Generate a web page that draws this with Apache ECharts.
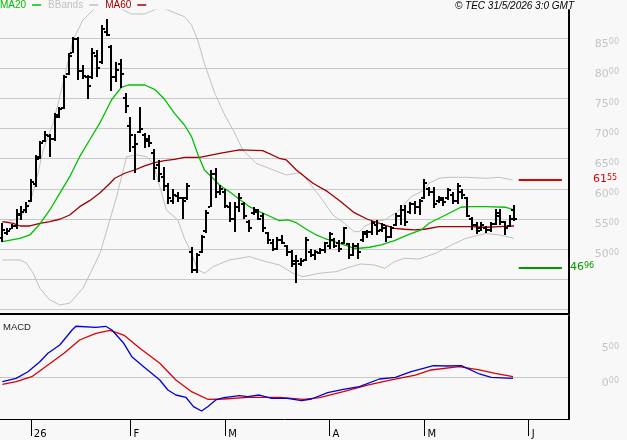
<!DOCTYPE html>
<html><head><meta charset="utf-8">
<script src="https://cdn.jsdelivr.net/npm/echarts@6/dist/echarts.min.js"></script>
<style>html,body{margin:0;padding:0;background:#f8f8f8}#c{width:627px;height:440px}</style>
</head><body><div id="c"></div>
<script>
// ---- data ----
const N = 120; // trading-day slots on the x axis (incl. empty future slots)
const monthStarts = [6, 27, 47, 69, 89, 111];
const monthNames = ['26', 'F', 'M', 'A', 'M', 'J'];

const open = [5180,5260,5340,5380,5560,5640,5800,6080,6520,6800,
6880,6820,7220,7340,7900,8260,8480,7950,7860,7850,
8200,8100,8600,8350,7850,8080,7500,7050,6700,6950,
6900,6820,6600,6400,6200,6050,5800,5880,5850,5840,
4950,4650,4950,5300,5700,6250,5950,5950,5700,5500,
5700,5750,5450,5600,5620,5550,5270,5100,5000,5150,
5050,4950,4800,4750,4820,4950,4900,4940,4980,5050,
5150,5100,5100,5080,4900,5050,5150,5250,5280,5400,
5320,5350,5200,5400,5550,5650,5620,5750,5700,5850,
6000,5950,5800,5820,5850,5900,5800,5950,5850,5500,
5400,5350,5350,5320,5420,5550,5450,5380,5650];
const high = [5437,5344,5415,5660,5714,5781,6163,6557,6799,6960,
6910,7254,7364,7890,8251,8517,8517,8057,7890,8334,
8306,8721,8816,8389,8111,8151,7596,7198,6910,7355,
6932,6894,6656,6479,6357,6102,5992,5952,5869,6102,
5029,4929,5233,5648,6312,6341,6063,5992,5786,5786,
5935,5786,5482,5693,5660,5603,5288,5161,5205,5233,
5067,4984,4901,4846,5194,4995,4984,5012,5122,5288,
5178,5150,5371,5106,5095,5106,5305,5316,5470,5482,
5437,5382,5382,5593,5731,5731,5786,5803,5826,6158,
6036,6025,5881,5859,6009,5952,6102,5992,5859,5527,
5454,5454,5382,5454,5660,5660,5470,5565,5731];
const low = [5122,5233,5327,5327,5482,5603,5781,6025,6507,6783,
6523,6783,7188,7320,7890,8251,7807,7824,7487,7824,
7862,8073,8527,7630,7779,7670,7264,6616,6258,6922,
6689,6700,6135,6118,5952,5759,5743,5786,5510,5814,
4597,4597,4929,5271,5693,5842,5897,5676,5454,5288,
5620,5499,5288,5565,5470,5288,5095,4956,4984,5084,
4884,4696,4431,4707,4790,4862,4818,4917,4939,5012,
5012,4956,5095,4846,4873,4846,5122,5178,5233,5233,
5288,5122,5178,5371,5399,5382,5593,5593,5565,5826,
5881,5676,5759,5714,5814,5748,5759,5826,5527,5305,
5249,5305,5272,5288,5399,5399,5233,5371,5470];
const close = [5320,5300,5390,5580,5620,5720,6120,6500,6760,6900,
6820,7200,7320,7850,8200,8480,7950,7880,7700,8250,
8000,8650,8560,7860,7970,7900,7380,6900,6750,7000,
6800,6760,6350,6250,6050,5850,5900,5850,5800,6050,
4650,4900,5200,5600,6250,5950,6000,5720,5500,5700,
5850,5550,5350,5650,5500,5350,5150,5000,5150,5100,
4950,4750,4800,4800,5150,4900,4950,4990,5100,5250,
5050,5000,5350,4900,5050,4950,5280,5290,5430,5300,
5400,5200,5350,5550,5650,5450,5750,5700,5800,6100,
5950,5750,5850,5780,5980,5800,6050,5900,5550,5400,
5300,5400,5320,5420,5600,5450,5350,5500,5500];

// indicator lines: [slot index, value]
const ma20 = [[0,5122],[3.7,5178],[5.8,5233],[7.9,5416],[10,5648],[12.1,5925],[14.2,6201],[16.3,6533],[18.4,6811],[20.6,7098],[21.6,7254],[23,7475],[25.1,7686],[26.5,7724],[30,7724],[32.1,7653],[34.2,7487],[36.3,7254],[38.4,7060],[39.9,6866],[41.2,6578],[42.6,6312],[44.1,6201],[45.8,6063],[47.9,5952],[50,5826],[52.1,5703],[54.2,5620],[56.3,5548],[58.4,5470],[60.2,5482],[62,5437],[64.1,5328],[66.2,5233],[67.9,5178],[70,5122],[72.1,5067],[74.2,5012],[75.3,5012],[77.4,5029],[79.9,5067],[82.7,5138],[85.5,5233],[88.3,5316],[90,5427],[92.1,5510],[94.2,5593],[96.7,5693],[98.4,5703],[102,5703],[106.2,5693],[107.9,5648]];
const ma60 = [[0,5454],[2.3,5427],[3.7,5382],[5.8,5382],[7.9,5427],[10,5454],[12.1,5494],[14.2,5565],[16.3,5703],[18.4,5803],[20.6,5935],[22.7,6092],[23.7,6175],[25.8,6258],[27.9,6312],[30,6379],[32.1,6434],[34.2,6467],[36.3,6490],[38.4,6523],[41.6,6523],[45.8,6590],[50,6645],[54.9,6633],[58.4,6507],[59.9,6479],[62,6312],[65.5,6092],[68.6,5952],[71.4,5786],[74.2,5603],[77,5494],[79.9,5416],[82.7,5344],[84.8,5328],[86.9,5316],[89,5328],[92.1,5371],[98.4,5371],[102,5361],[104.8,5371],[107.9,5382]];
const bbUpper = [[0,5440],[3.7,5510],[5.8,5759],[7.2,6146],[8.6,6645],[10.7,7088],[12.8,7753],[14.9,8472],[17,8804],[18.8,8942],[21,9120],[23,9180],[25.5,8970],[27.2,8904],[30,8904],[32.1,8975],[33.5,9010],[34.9,8970],[38.4,8859],[39.9,8721],[41.2,8472],[42.6,8085],[44.8,7586],[46.9,7226],[49,6927],[50.7,6645],[53.5,6424],[59.9,6229],[62,6258],[63,6268],[64.8,6092],[66.9,5880],[69.7,5565],[72.1,5427],[74.2,5288],[75.3,5288],[76.3,5371],[78.4,5454],[80.6,5482],[83.4,5620],[86.2,5869],[89,5980],[90,6092],[92.1,6175],[94.2,6191],[97.8,6191],[102,6175],[104.8,6191],[107.6,6146]];
const bbLower = [[0,4818],[3.7,4818],[5.1,4763],[6.5,4597],[7.9,4348],[10,4154],[12.1,4070],[14.2,4100],[17,4348],[20.6,4929],[24.1,5869],[26.2,6533],[28.3,6562],[30.4,6533],[31.8,6424],[34.6,5648],[37,5482],[38.4,5178],[39.9,4929],[41.2,4652],[42.7,4597],[44.4,4706],[47.9,4818],[52.1,4873],[55.6,4789],[58.4,4735],[61.3,4597],[63.4,4540],[66.9,4597],[70.4,4624],[73.5,4706],[75.6,4751],[78.4,4735],[80.6,4680],[82.7,4789],[84.8,4846],[87.9,4834],[91.4,4929],[94.9,5073],[97.8,5178],[102,5258],[104.8,5233],[107.9,5178]];
const macdLine = [[0,-64],[2.9,-15],[5.4,81],[7.9,226],[9.6,348],[12.1,468],[14.7,686],[15.5,740],[19.7,725],[21.8,740],[23.1,686],[25.6,493],[27.3,299],[29.8,154],[33.2,-39],[34.9,-184],[36.6,-257],[38.7,-290],[40.3,-426],[42,-489],[43.3,-426],[45,-329],[46.7,-296],[50,-267],[51.7,-281],[54.2,-257],[56.8,-305],[60.1,-305],[63.1,-339],[65.2,-315],[68.6,-223],[71.9,-174],[75.3,-136],[79.5,-25],[82.9,0],[86.2,81],[88.8,131],[90.9,168],[93.8,164],[96.8,168],[100.6,48],[103.1,0],[107.7,-15]];
const signalLine = [[0,-102],[2.9,-64],[6.2,9],[9.6,178],[13,348],[16.3,541],[19.7,638],[22.7,682],[25.6,613],[29,420],[33.2,203],[36.6,-39],[39.9,-209],[43.3,-319],[46.7,-315],[51.7,-290],[58.5,-290],[63.5,-319],[66.9,-296],[71.9,-209],[77,-112],[82,-39],[87.1,33],[90.4,106],[96.3,154],[100.6,106],[103.9,58],[107.7,9]];

const priceTicks = [5000,5500,6000,6500,7000,7500,8000,8500];
const priceGrid = [4000,4500,5000,5500,6000,6500,7000,7500,8000,8500];
const macdTicks = [0, 500];
const resistance = 6155, support = 4696;
const levelSpan = [108.9, 118];

// ---- chart ----
const categories = Array.from({length: N}, (_, i) => String(i));
const isMonth = (i) => monthStarts.indexOf(i) >= 0;
const ohlc = open.map((o, i) => [i, o, close[i], low[i], high[i]]);

const LBL = '#c4c4c4';
function richNum(col) {
  return {
    a: {fontSize: 11, color: col, fontFamily: 'DejaVu Sans', lineHeight: 11},
    b: {fontSize: 8, color: col, fontFamily: 'DejaVu Sans', lineHeight: 9, verticalAlign: 'top'}
  };
}
const hundredFmt = v => '{a|' + Math.round(v / 100) + '}{b|00}';
const splitFmt = v => { const s = String(v); return '{a|' + s.slice(0, 2) + '}{b|' + s.slice(2) + '}'; };

function renderOHLC(params, api) {
  const i = api.value(0);
  const o = api.coord([i, api.value(1)]);
  const c = api.coord([i, api.value(2)]);
  const l = api.coord([i, api.value(3)]);
  const h = api.coord([i, api.value(4)]);
  const x = Math.round(h[0]);
  const style = {fill: '#000'};
  return {type: 'group', children: [
    {type: 'rect', shape: {x: x - 1, y: Math.round(h[1]), width: 2, height: Math.max(1, Math.round(l[1] - h[1]))}, style},
    {type: 'rect', shape: {x: x - 3, y: Math.round(o[1]) - 1, width: 2, height: 2}, style},
    {type: 'rect', shape: {x: x + 1, y: Math.round(c[1]) - 1, width: 2, height: 2}, style}
  ]};
}

function levelSeries(value, color, dist) {
  return {
    type: 'line', xAxisIndex: 1, yAxisIndex: 0, data: [], silent: true,
    markLine: {
      silent: true, symbol: ['none', 'none'], animation: false,
      lineStyle: {color: color, width: 2, type: 'solid'},
      label: {show: true, position: 'end', distance: dist, formatter: () => splitFmt(value), rich: richNum(color)},
      data: [[{coord: [levelSpan[0], value]}, {coord: [levelSpan[1], value]}]]
    }
  };
}

// right-hand frame line of each panel
function frameSeries(xIdx, yIdx) {
  return {
    type: 'line', xAxisIndex: xIdx, yAxisIndex: yIdx, data: [], silent: true, z: 5, clip: false,
    markLine: {silent: true, symbol: ['none', 'none'], animation: false, label: {show: false},
      lineStyle: {color: '#000', width: 2, type: 'solid'}, data: [{xAxis: N - 0.5}]}
  };
}

const option = {
  animation: false,
  backgroundColor: '#f8f8f8',
  textStyle: {fontFamily: 'Liberation Sans'},
  title: [
    {text: '© TEC 31/5/2026 3:0 GMT', right: 53, top: 1, padding: 0,
     textStyle: {fontSize: 10, fontStyle: 'italic', fontWeight: 'normal', color: '#000', fontFamily: 'Liberation Sans'}},
    {text: 'MACD', left: 3, top: 322, padding: 0,
     textStyle: {fontSize: 9.5, fontWeight: 'normal', color: '#222', fontFamily: 'Liberation Sans'}}
  ],
  legend: {
    left: 0, top: 0, padding: 0, itemGap: 7, itemWidth: 9, itemHeight: 1.5, icon: 'rect', align: 'right',
    selectedMode: false,
    textStyle: {fontSize: 10, fontFamily: 'Liberation Sans', padding: [0, 1, 0, 0]},
    data: [
      {name: 'MA20', textStyle: {color: '#00c000'}},
      {name: 'BBands', textStyle: {color: '#c0c0c0'}},
      {name: 'MA60', textStyle: {color: '#a00000'}}
    ]
  },
  grid: [
    {left: 0, top: 10, width: 569, height: 304},
    {left: 0, top: 316, width: 569, height: 103}
  ],
  xAxis: [
    {type: 'category', gridIndex: 0, data: categories, boundaryGap: true,
     axisLine: {show: true, onZero: false, lineStyle: {color: '#000', width: 2}}, axisTick: {show: false}, axisLabel: {show: false}, splitLine: {show: false}},
    {type: 'value', gridIndex: 0, min: -0.5, max: N - 0.5, show: false},
    {type: 'category', gridIndex: 1, data: categories, boundaryGap: true,
     axisLine: {show: true, onZero: false, lineStyle: {color: '#000', width: 1}},
     axisTick: {show: true, alignWithLabel: true, length: 17, interval: (i) => isMonth(i), lineStyle: {color: '#000', width: 1}},
     axisLabel: {show: true, interval: (i) => isMonth(i), formatter: (v, i) => monthNames[monthStarts.indexOf(i)] || '',
       align: 'left', margin: 10, fontSize: 10, color: '#000', fontFamily: 'DejaVu Sans', padding: [0, 0, 0, 3]},
     splitLine: {show: false}},
    {type: 'value', gridIndex: 1, min: -0.5, max: N - 0.5, show: false}
  ],
  yAxis: [
    {type: 'value', gridIndex: 0, position: 'right', min: 3920, max: 8970,
     axisLine: {show: true, onZero: false, lineStyle: {color: '#000', width: 2}}, axisTick: {show: false}, splitLine: {show: false},
     axisLabel: {show: true, customValues: priceTicks, formatter: hundredFmt, rich: richNum(LBL), margin: 50, align: 'right', verticalAlign: 'top'}},
    {type: 'value', gridIndex: 1, position: 'right', min: -605, max: 889,
     axisLine: {show: true, onZero: false, lineStyle: {color: '#000', width: 2}}, axisTick: {show: false}, splitLine: {show: false},
     axisLabel: {show: true, customValues: macdTicks, formatter: hundredFmt, rich: richNum(LBL), margin: 50, align: 'right', verticalAlign: 'top'}}
  ],
  series: [
    {name: 'grid', type: 'line', xAxisIndex: 1, yAxisIndex: 0, data: [], silent: true, z: 0,
     markLine: {silent: true, z: 0, symbol: ['none', 'none'], animation: false, label: {show: false},
       lineStyle: {color: '#c8c8c8', width: 1, type: 'solid'}, data: priceGrid.map(v => ({yAxis: v}))}},
    {name: 'BBands', type: 'line', xAxisIndex: 1, yAxisIndex: 0, data: bbUpper, showSymbol: false, symbol: 'none',
     color: '#c0c0c0', lineStyle: {color: '#c0c0c0', width: 1}, z: 1},
    {name: 'BBands', type: 'line', xAxisIndex: 1, yAxisIndex: 0, data: bbLower, showSymbol: false, symbol: 'none',
     color: '#c0c0c0', lineStyle: {color: '#c0c0c0', width: 1}, z: 1},
    {name: 'MA60', type: 'line', xAxisIndex: 1, yAxisIndex: 0, data: ma60, showSymbol: false, symbol: 'none',
     color: '#a00000', lineStyle: {color: '#a00000', width: 1.3}, z: 2},
    {name: 'MA20', type: 'line', xAxisIndex: 1, yAxisIndex: 0, data: ma20, showSymbol: false, symbol: 'none',
     color: '#00c000', lineStyle: {color: '#00c000', width: 1.3}, z: 2},
    {name: 'OHLC', type: 'custom', xAxisIndex: 0, yAxisIndex: 0, data: ohlc, renderItem: renderOHLC,
     encode: {x: 0, y: [1, 2, 3, 4]}, z: 3, silent: true},
    levelSeries(resistance, '#dd0000', 31),
    levelSeries(support, '#009900', 8),
    frameSeries(1, 0),
    frameSeries(3, 1),
    {name: 'zero', type: 'line', xAxisIndex: 3, yAxisIndex: 1, data: [], silent: true, z: 0,
     markLine: {silent: true, z: 0, symbol: ['none', 'none'], animation: false, label: {show: false},
       lineStyle: {color: '#c8c8c8', width: 1, type: 'solid'}, data: [{yAxis: 0}]}},
    {name: 'Signal', type: 'line', xAxisIndex: 3, yAxisIndex: 1, data: signalLine, showSymbol: false, symbol: 'none',
     lineStyle: {color: '#dd0000', width: 1.3}, z: 2},
    {name: 'MACD', type: 'line', xAxisIndex: 3, yAxisIndex: 1, data: macdLine, showSymbol: false, symbol: 'none',
     lineStyle: {color: '#0000dd', width: 1.3}, z: 2}
  ]
};
const chart = echarts.init(document.getElementById('c'));
chart.setOption(option);
</script></body></html>
